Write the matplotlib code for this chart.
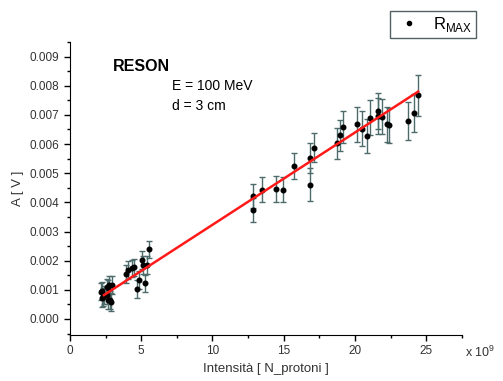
import matplotlib
matplotlib.use('Agg')
import matplotlib.pyplot as plt
from matplotlib.ticker import MultipleLocator, FormatStrFormatter
from matplotlib.lines import Line2D

plt.rcParams['font.family'] = ['Liberation Sans', 'DejaVu Sans']

# intensita' (x 1e9 protoni), ampiezza R_MAX [V], errore [V]
intensita = [2.18, 2.22, 2.27, 2.34, 2.41, 2.58, 2.60, 2.69, 2.69, 2.76, 2.81, 2.88, 2.93,
             3.93, 4.10, 4.33, 4.49, 4.68, 4.85, 5.03, 5.10, 5.27, 5.43, 5.55,
             12.83, 12.85, 13.50, 14.47, 14.98, 15.73, 16.85, 16.85, 17.13,
             18.73, 18.96, 19.19, 20.13, 20.48, 20.83, 21.07, 21.60, 21.65, 21.93,
             22.24, 22.42, 23.76, 24.16, 24.46]
ampiezza = [0.00094, 0.00097, 0.00071, 0.00076, 0.00082, 0.00108, 0.00082, 0.00065, 0.00105,
            0.00116, 0.00065, 0.00059, 0.00116,
            0.00154, 0.00168, 0.00174, 0.00177, 0.00102, 0.00134, 0.00202, 0.00185, 0.00122,
            0.00185, 0.00239,
            0.00422, 0.00374, 0.00444, 0.00446, 0.00444, 0.00525, 0.00460, 0.00552, 0.00588,
            0.00602, 0.00630, 0.00659, 0.00668, 0.00653, 0.00628, 0.00690, 0.00713, 0.00696,
            0.00693, 0.00668, 0.00665, 0.00680, 0.00707, 0.00767]
errore = [0.00030, 0.00030, 0.00030, 0.00030, 0.00030, 0.00030, 0.00030, 0.00030, 0.00030,
          0.00030, 0.00030, 0.00030, 0.00030,
          0.00030, 0.00030, 0.00030, 0.00030, 0.00030, 0.00030, 0.00030, 0.00030, 0.00030,
          0.00030, 0.00030,
          0.00042, 0.00040, 0.00044, 0.00044, 0.00044, 0.00045, 0.00057, 0.00050, 0.00050,
          0.00054, 0.00054, 0.00055, 0.00060, 0.00060, 0.00058, 0.00060, 0.00062, 0.00062,
          0.00060, 0.00060, 0.00060, 0.00065, 0.00065, 0.00070]

# retta di fit (estremi)
fit_x = [2.39, 24.44]
fit_y = [0.00082, 0.00780]

fig = plt.figure(figsize=(5.03, 3.81), dpi=100)
ax = fig.add_axes([0.139, 0.1207, 0.779, 0.769])

ax.errorbar(intensita, ampiezza, yerr=errore, fmt='o', color='black', markersize=3.3,
            ecolor='#4d6b6b', elinewidth=1.0, capsize=2.5, capthick=1.0, zorder=3)
ax.plot(fit_x, fit_y, color='#ff1a1a', linewidth=1.8, zorder=4)

ax.set_xlim(0, 27.5)
ax.set_ylim(-0.00055, 0.0095)
ax.xaxis.set_major_locator(MultipleLocator(5))
ax.xaxis.set_minor_locator(MultipleLocator(2.5))
ax.yaxis.set_major_locator(MultipleLocator(0.001))
ax.yaxis.set_minor_locator(MultipleLocator(0.0005))
ax.yaxis.set_major_formatter(FormatStrFormatter('%.3f'))

for s in ['top', 'right']:
    ax.spines[s].set_visible(False)
ax.tick_params(which='major', direction='out', length=4, width=1, labelsize=8.5, labelcolor='#333333')
ax.tick_params(which='minor', direction='out', length=2, width=1)

ax.set_xlabel('Intensità [ N_protoni ]', fontsize=9.5, color='#333333')
ax.set_ylabel('A [ V ]', fontsize=9.5, color='#333333')

fig.text(0.955, 0.075, 'x 10$^{\\mathregular{9}}$', fontsize=9, ha='center', va='center', color='#333333')

ax.text(0.11, 0.916, 'RESON', transform=ax.transAxes, fontsize=11.5, fontweight='bold', va='center')
ax.text(0.26, 0.850, 'E = 100 MeV', transform=ax.transAxes, fontsize=10, va='center')
ax.text(0.26, 0.782, 'd = 3 cm', transform=ax.transAxes, fontsize=10, va='center')

handle = Line2D([], [], linestyle='none', marker='o', color='black', markersize=3)
leg = fig.legend([handle], ['R$_{\\mathregular{MAX}}$'], loc='center',
                 bbox_to_anchor=(0.861, 0.936), fontsize=12, frameon=True, fancybox=False,
                 handletextpad=0.5, borderpad=0.25, handlelength=1.8, borderaxespad=0)
leg.get_frame().set_edgecolor('#2a3a3a')
leg.get_frame().set_linewidth(1.0)

fig.savefig('out.png', dpi=100)
